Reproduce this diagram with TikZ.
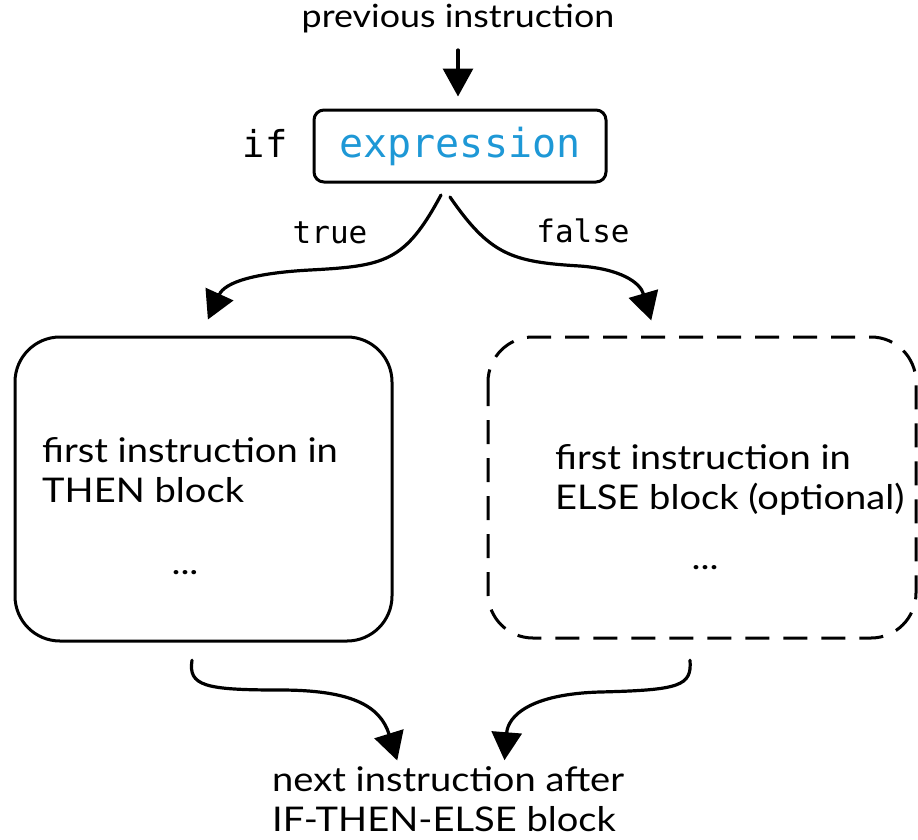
\documentclass[tikz,border=0pt]{standalone}
\usepackage{fontspec}
\setmainfont{Lato}[FakeStretch=1.12]
\newfontfamily\codefont{DejaVu Sans Mono}
\usetikzlibrary{arrows.meta}
\definecolor{exprblue}{RGB}{30,152,214}
\tikzset{
  flow/.style={line width=3.2pt, line cap=round, -{Triangle[length=28pt,width=30pt]}},
  hand/.style={font=\fontsize{34}{40}\selectfont, inner sep=0pt},
  code/.style={font=\codefont\fontsize{31}{36}\selectfont, inner sep=0pt},
  blockbox/.style={line width=3pt, rounded corners=45pt},
}
\begin{document}
\begin{tikzpicture}[x=1pt,y=-1pt]
\useasboundingbox (0,0) rectangle (918,839);

% entry and condition
\node[hand, font=\fontsize{32}{38}\selectfont] (prev) at (458,19) {previous instruction};
\node[draw, line width=3pt, rounded corners=10pt, minimum width=292pt, minimum height=72pt,
      font=\codefont\fontsize{40}{44}\selectfont, text=exprblue] (expr) at (460,146) {expression};
\node[code, font=\codefont\fontsize{37}{40}\selectfont] (if) at (265,143) {if};
\draw[flow, shorten >=12pt] (458,50) -- (expr.north -| 458,0);

% branches
\coordinate (tstart) at (441,195);
\coordinate (fstart) at (450,197);
\node[code] (true) at (330,233) {true};
\node[code] (false) at (583,231) {false};

\draw[blockbox] (15,337) rectangle (392,641);
\node[draw=none, minimum width=377pt, minimum height=304pt] (then) at (203.5,489) {};
\draw[blockbox, dash pattern=on 24pt off 14pt] (488,337) rectangle (916,638);
\node[draw=none, minimum width=428pt, minimum height=301pt] (else) at (702,487.5) {};

\draw[flow, shorten >=19pt] (tstart) .. controls (405,262) and (385,266) .. (310,270)
                     .. controls (255,273) and (225,282) .. (then.north -| 200,0);
\draw[flow, shorten >=17pt] (fstart) .. controls (490,255) and (512,262) .. (580,266)
                     .. controls (620,269) and (640,282) .. (else.north -| 656,0);

\node[hand, anchor=west, align=left] (thentext) at (42,470) {first instruction in\\THEN block};
\node[hand] (thendots) at (185,573) {...};
\node[hand, anchor=west, align=left] (elsetext) at (555,480) {first instruction in\\ELSE block (optional)};
\node[hand] (elsedots) at (705,568) {...};

% join
\node[hand, align=left, anchor=west] (next) at (272,799) {next instruction after\\IF-THEN-ELSE block};
\draw[flow, shorten >=6pt] (then.south -| 192,0) ++(0,19) .. controls (188,686) and (205,690) .. (280,690)
            .. controls (350,690) and (380,705) .. (next.north -| 399,0);
\draw[flow, shorten >=6pt] (else.south -| 690,0) ++(0,22) .. controls (692,686) and (680,690) .. (600,692)
            .. controls (530,694) and (508,716) .. (next.north -| 504,0);
\end{tikzpicture}
\end{document}
